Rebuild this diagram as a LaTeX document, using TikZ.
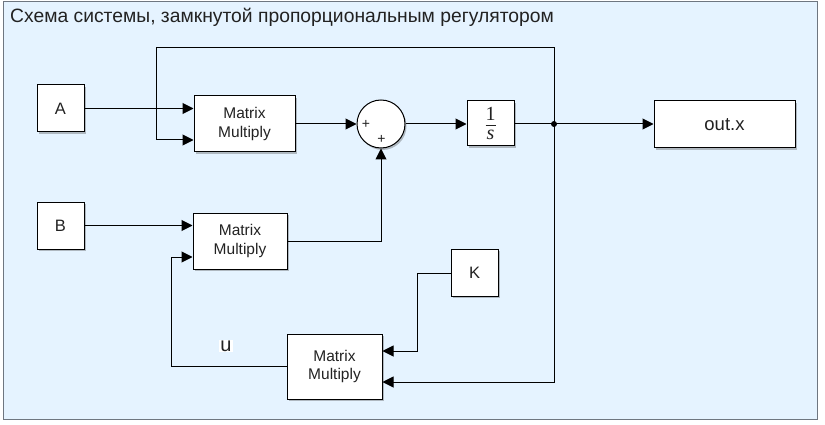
\documentclass[tikz,border=0pt]{standalone}
\usepackage{fontspec}
\setmainfont{Liberation Sans}
\newfontfamily\serif{Liberation Serif}
\usetikzlibrary{arrows.meta,shadows}
\definecolor{bg}{HTML}{E5F3FF}
\definecolor{framec}{HTML}{6E7680}
\definecolor{txt}{HTML}{222222}
\newcommand\intlabel{\serif\fontsize{20}{20}\selectfont$\vcenter{\hbox to 10pt{\hss1\hss}\kern4pt\hrule height 0.9pt\kern4pt\hbox to 10pt{\hss\itshape s\hss}}$}
\begin{document}
\begin{tikzpicture}[x=1pt,y=-1pt,
  blk/.style={draw=black, line width=1pt, fill=white, inner sep=0pt, align=center,
    text=txt, font=\fontsize{15.5}{18.5}\selectfont,
    drop shadow={shadow xshift=1.5pt, shadow yshift=-2pt, opacity=0.35, fill=black!70}},
  letter/.style={blk, minimum width=47pt, minimum height=47pt, font=\fontsize{16.5}{18}\selectfont},
  wire/.style={line width=1pt, draw=black},
  arr/.style={wire, -{Triangle[length=11pt,width=11pt]}},
  plus/.style={font=\fontsize{14}{14}\selectfont, inner sep=0pt, text=txt}]
\useasboundingbox (0,0) rectangle (825,425);
\fill[bg] (3,2) rectangle (817,419);
\draw[framec, line width=1pt] (3,2) rectangle (817,419);
\node[anchor=base west, text=txt, font=\fontsize{19.3}{21}\selectfont, inner sep=0pt] (title) at (10,23)
  {Схема системы, замкнутой пропорциональным регулятором};

% blocks
\node[letter] (A) at (60.5,108.5) {A};
\node[letter] (B) at (60.5,225.5) {B};
\node[blk, minimum width=101pt, minimum height=56pt] (mm1) at (244.5,124) {Matrix\\Multiply};
\node[blk, minimum width=94pt, minimum height=56pt] (mm2) at (240,241) {Matrix\\Multiply};
\node[blk, minimum width=95pt, minimum height=65pt] (mm3) at (334.5,366.5) {Matrix\\Multiply};
\node[blk, circle, minimum size=48pt] (sum) at (381,124) {};
\node[plus] (p1) at (366,124) {+};
\node[plus] (p2) at (381.5,139.5) {+};
\node[blk, minimum width=47pt, minimum height=45pt] (int) at (490.5,123.5) {\intlabel};
\node[blk, minimum width=141pt, minimum height=47pt, font=\fontsize{18.5}{20}\selectfont] (out) at (724.5,124.5) {out.x};
\node[letter] (K) at (474.5,272.5) {K};

% coordinates
\coordinate (j) at (554,124);
\coordinate (topR) at (554,48);
\coordinate (topL) at (156,48);
\coordinate (in12) at (156,140);
\coordinate (kb) at (417,273);
\coordinate (kc) at (417,351);
\coordinate (jb) at (554,382);
\coordinate (ul) at (171,366);
\coordinate (ut) at (171,257);
\coordinate (s2) at (381,241);

% wires
\draw[arr] (A.east) -- (A.east -| mm1.west);
\draw[arr] (j) -- (topR) -- (topL) -- (in12) -- (in12 -| mm1.west);
\draw[arr] (B.east) -- (B.east -| mm2.west);
\draw[arr] (mm1.east) -- (sum.west);
\draw[arr] (mm2.east |- s2) -- (s2) -- (sum.south);
\draw[arr] (sum.east) -- (int.west |- sum.east);
\draw[arr] (int.east |- j) -- (out.west |- j);
\draw[arr] (j) -- (jb) -- (jb -| mm3.east);
\draw[arr] (K.west |- kb) -- (kb) -- (kc) -- (kc -| mm3.east);
\draw[arr] (mm3.west |- ul) -- (ul) -- (ut) -- (ut -| mm2.west);
\fill (j) circle (3pt);

\node[fill=white, text=txt, font=\fontsize{20}{20}\selectfont, inner sep=1pt] (u) at (226,346) {u};
\end{tikzpicture}
\end{document}
